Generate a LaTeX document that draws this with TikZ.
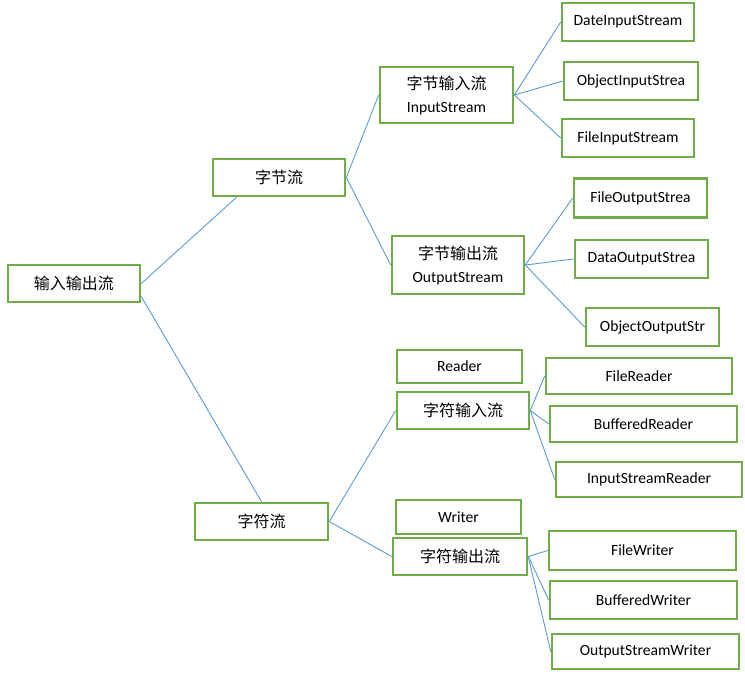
\documentclass[tikz,border=0pt]{standalone}
\usepackage{fontspec}
\setmainfont{Carlito}
\newfontfamily\cjk{Noto Sans CJK SC}
\usepackage{tikz}
\usetikzlibrary{positioning}

\definecolor{boxgreen}{RGB}{112,173,71}
\definecolor{linkblue}{RGB}{91,155,213}

\begin{document}
\begin{tikzpicture}[x=1pt, y=-1pt,
  box/.style={rectangle, draw=boxgreen, line width=2.6pt, fill=white,
    inner sep=0pt, align=center, font=\fontsize{15.6}{23}\selectfont},
  cn/.style={font=\fontsize{16}{23}\cjk},
  link/.style={draw=linkblue, line width=0.9pt}
]
  \useasboundingbox (0,0) rectangle (745,683);
  % root and first level
  \node[box, cn, minimum width=132pt, minimum height=37pt] (io) at (74,283.5) {输入输出流};
  \node[box, cn, minimum width=132pt, minimum height=37pt] (byte) at (279,177.5) {字节流};
  \node[box, cn, minimum width=133pt, minimum height=37pt] (char) at (261.5,521.5) {字符流};
  % byte streams
  \node[box, minimum width=133pt, minimum height=56pt] (bin) at (446.5,95) {{\cjk\fontsize{16}{23}\selectfont 字节输入流}\\InputStream};
  \node[box, minimum width=132pt, minimum height=58pt] (bout) at (458,265) {{\cjk\fontsize{16}{23}\selectfont 字节输出流}\\OutputStream};
  \node[box, minimum width=132pt, minimum height=38pt] (dis) at (628,22) {DateInputStream};
  \node[box, minimum width=134pt, minimum height=38pt] (ois) at (631,81) {ObjectInputStrea};
  \node[box, minimum width=132pt, minimum height=38pt] (fis) at (628,138) {FileInputStream};
  \node[box, minimum width=133pt, minimum height=39pt] (fos) at (640.5,198) {FileOutputStrea};
  \node[box, minimum width=133pt, minimum height=38pt] (dos) at (641.5,259) {DataOutputStrea};
  \node[box, minimum width=133pt, minimum height=38pt] (oos) at (652.5,327) {ObjectOutputStr};
  % char streams
  \node[box, minimum width=125pt, minimum height=33pt] (reader) at (459.5,366.5) {Reader};
  \node[box, cn, minimum width=132pt, minimum height=37pt] (cin) at (463,410.5) {字符输入流};
  \node[box, minimum width=186pt, minimum height=36pt] (fr) at (639,376) {FileReader};
  \node[box, minimum width=187pt, minimum height=36pt] (br) at (643.5,424) {BufferedReader};
  \node[box, minimum width=186pt, minimum height=35pt] (isr) at (649,479.5) {InputStreamReader};
  \node[box, minimum width=125pt, minimum height=34pt] (writer) at (458.5,517) {Writer};
  \node[box, cn, minimum width=134pt, minimum height=37pt] (cout) at (460,556.5) {字符输出流};
  \node[box, minimum width=187pt, minimum height=39pt] (fw) at (642.5,550.5) {FileWriter};
  \node[box, minimum width=187pt, minimum height=38pt] (bw) at (643.5,600) {BufferedWriter};
  \node[box, minimum width=187pt, minimum height=35pt] (osw) at (645.5,651.5) {OutputStreamWriter};

  % connectors
  \draw[link] (io.east) -- (byte.205);
  \draw[link] (io.-11) -- (char.north);
  \draw[link] (byte.east) -- (bin.west);
  \draw[link] (byte.east) -- (bout.west);
  \foreach \c in {dis,ois,fis} \draw[link] (bin.east) -- (\c.west);
  \foreach \c in {fos,dos,oos} \draw[link] (bout.east) -- (\c.west);
  \draw[link] (char.east) -- (cin.west);
  \draw[link] (char.east) -- (cout.west);
  \foreach \c in {fr,br,isr} \draw[link] (cin.east) -- (\c.west);
  \foreach \c in {fw,bw,osw} \draw[link] (cout.east) -- (\c.west);
\end{tikzpicture}
\end{document}
